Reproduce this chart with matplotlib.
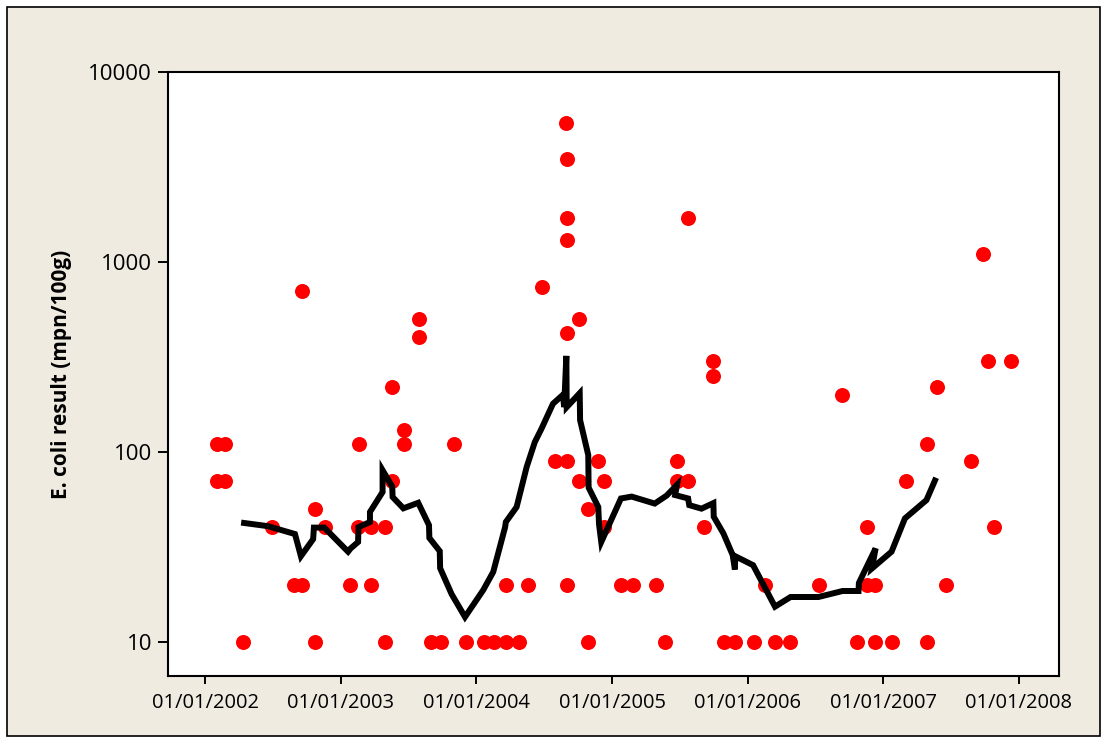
import matplotlib
matplotlib.use("Agg")
import matplotlib.pyplot as plt
import matplotlib.dates as mdates
from matplotlib.patches import Rectangle
from matplotlib.ticker import FixedLocator, FixedFormatter, NullLocator
import pandas as pd

# ---- data: individual E. coli results ----
sample_dates = [
    "2002-02-03", "2002-02-03", "2002-02-23", "2002-02-23", "2002-04-12", "2002-06-29",
    "2002-08-29", "2002-09-19", "2002-09-19", "2002-10-25", "2002-10-25", "2002-11-19",
    "2003-01-26", "2003-02-18", "2003-02-20", "2003-03-23", "2003-03-23", "2003-04-30",
    "2003-04-30", "2003-05-20", "2003-05-20", "2003-06-20", "2003-06-20", "2003-07-31",
    "2003-07-31", "2003-09-01", "2003-09-28", "2003-11-02", "2003-12-04", "2004-01-22",
    "2004-02-18", "2004-03-21", "2004-03-21", "2004-04-25", "2004-05-19", "2004-06-27",
    "2004-07-31", "2004-08-31", "2004-09-01", "2004-09-01", "2004-09-01", "2004-09-01",
    "2004-09-01", "2004-09-01", "2004-10-04", "2004-10-04", "2004-10-29", "2004-10-29",
    "2004-11-25", "2004-12-10", "2004-12-10", "2005-01-24", "2005-02-27", "2005-04-29",
    "2005-05-23", "2005-06-24", "2005-06-24", "2005-07-26", "2005-07-26", "2005-09-05",
    "2005-10-01", "2005-10-01", "2005-10-29", "2005-11-28", "2006-01-18", "2006-02-17",
    "2006-03-16", "2006-04-25", "2006-07-12", "2006-09-13", "2006-10-24", "2006-11-20",
    "2006-11-20", "2006-12-10", "2006-12-10", "2007-01-25", "2007-03-03", "2007-04-29",
    "2007-04-29", "2007-05-26", "2007-06-20", "2007-08-26", "2007-09-26", "2007-10-12",
    "2007-10-27", "2007-12-13",
]
sample_values = [
    110, 70, 110, 70, 10, 40,
    20, 20, 700, 50, 10, 40,
    20, 40, 110, 20, 40, 40,
    10, 220, 70, 130, 110, 500,
    400, 10, 10, 110, 10, 10,
    10, 10, 20, 10, 20, 740,
    90, 5400, 3500, 1700, 1300, 420,
    90, 20, 500, 70, 50, 10,
    90, 70, 40, 20, 20, 20,
    10, 90, 70, 1700, 70, 40,
    300, 250, 10, 10, 10, 20,
    10, 10, 20, 200, 10, 40,
    20, 20, 10, 10, 70, 110,
    10, 220, 20, 90, 1100, 300,
    40, 300,
]

# ---- data: running (geometric) mean line ----
line_dates = [
    "2002-04-08", "2002-06-19", "2002-08-31", "2002-09-16", "2002-10-19", "2002-10-21",
    "2002-11-18", "2003-01-21", "2003-01-28", "2003-02-17", "2003-02-18", "2003-03-21",
    "2003-03-21", "2003-04-24", "2003-04-24", "2003-05-20", "2003-05-21", "2003-06-19",
    "2003-07-29", "2003-08-27", "2003-08-28", "2003-09-25", "2003-09-26", "2003-10-27",
    "2003-12-02", "2004-01-20", "2004-02-16", "2004-03-19", "2004-03-21", "2004-04-19",
    "2004-05-16", "2004-06-07", "2004-06-25", "2004-07-26", "2004-08-22", "2004-08-25",
    "2004-08-31", "2004-09-01", "2004-10-06", "2004-10-07", "2004-10-29", "2004-10-30",
    "2004-11-25", "2004-11-27", "2004-12-03", "2005-01-25", "2005-02-23", "2005-04-26",
    "2005-05-28", "2005-06-25", "2005-06-20", "2005-07-25", "2005-07-28", "2005-08-30",
    "2005-10-01", "2005-10-02", "2005-10-28", "2005-11-22", "2005-11-28", "2005-11-29",
    "2006-01-16", "2006-03-16", "2006-04-27", "2006-07-11", "2006-09-14", "2006-10-27",
    "2006-10-28", "2006-12-12", "2006-12-02", "2007-01-24", "2007-03-01", "2007-04-28",
    "2007-05-24",
]
line_values = [
    42.4, 40.6, 36.9, 28.2, 34.7, 39.9,
    39.9, 29.8, 31.0, 33.5, 40.1, 42.7,
    48.2, 61.4, 80.0, 65.6, 57.8, 50.4,
    53.9, 41.1, 35.2, 30.0, 24.4, 17.8,
    13.5, 18.7, 23.3, 40.1, 42.7, 51.2,
    83.1, 112.5, 132.3, 179.2, 199.8, 171.9,
    320.0, 171.9, 203.7, 146.9, 96.1, 64.8,
    51.2, 41.6, 33.5, 56.8, 58.1, 53.4,
    58.8, 67.0, 59.2, 56.8, 52.4, 50.2,
    53.7, 45.5, 37.2, 28.6, 24.0, 28.2,
    25.3, 15.3, 17.2, 17.2, 18.5, 18.5,
    20.4, 31.0, 24.3, 29.8, 44.6, 55.7,
    73.0,
]

x_ticks = ["2002-01-01", "2003-01-01", "2004-01-01", "2005-01-01",
           "2006-01-01", "2007-01-01", "2008-01-01"]
x_tick_labels = ["01/01/2002", "01/01/2003", "01/01/2004", "01/01/2005",
                 "01/01/2006", "01/01/2007", "01/01/2008"]
y_ticks = [10, 100, 1000, 10000]
y_tick_labels = ["10", "100", "1000", "10000"]
y_label = "E. coli result (mpn/100g)"

# ---- figure ----
W, H = 1106, 742
fig = plt.figure(figsize=(W / 100, H / 100), dpi=100, facecolor="white")
beige = "#EFEBE1"
bg = Rectangle((7 / W, 1 - 736 / H), (1100 - 7) / W, (736 - 7) / H,
               transform=fig.transFigure, facecolor=beige,
               edgecolor="black", linewidth=1.2, zorder=-10)
fig.add_artist(bg)

ax = fig.add_axes([168 / W, 1 - 676 / H, (1059 - 168) / W, (676 - 72) / H])
ax.set_zorder(1)
ax.set_facecolor("white")

sd = pd.to_datetime(sample_dates)
ld = pd.to_datetime(line_dates)

ax.plot(ld, line_values, color="black", linewidth=4.3,
        solid_joinstyle="miter", solid_capstyle="butt", zorder=3)
ax.plot(sd, sample_values, linestyle="none", marker="o", markersize=10.8,
        markerfacecolor="#FF0000", markeredgewidth=0, zorder=2)

ax.set_yscale("log")
ax.set_ylim(6.6, 10000)
ax.set_xlim(pd.Timestamp("2001-09-23"), pd.Timestamp("2008-04-19"))

ax.yaxis.set_major_locator(FixedLocator(y_ticks))
ax.yaxis.set_major_formatter(FixedFormatter(y_tick_labels))
ax.yaxis.set_minor_locator(NullLocator())
xt = mdates.date2num(pd.to_datetime(x_ticks))
ax.xaxis.set_major_locator(FixedLocator(xt))
ax.xaxis.set_major_formatter(FixedFormatter(x_tick_labels))
ax.xaxis.set_minor_locator(NullLocator())

font = ["Open Sans", "DejaVu Sans"]
for s in ax.spines.values():
    s.set_linewidth(1.5)
    s.set_color("black")
ax.tick_params(axis="y", direction="out", length=7.5, width=1.4, pad=4,
               labelsize=16)
ax.tick_params(axis="x", direction="out", length=6, width=1.4, pad=6,
               labelsize=14.5)
for lab in ax.get_xticklabels() + ax.get_yticklabels():
    lab.set_family(font)

ax.set_ylabel(y_label, fontsize=15, fontweight="bold", family=font, labelpad=12)

fig.savefig("out.png", dpi=100, facecolor="white")
